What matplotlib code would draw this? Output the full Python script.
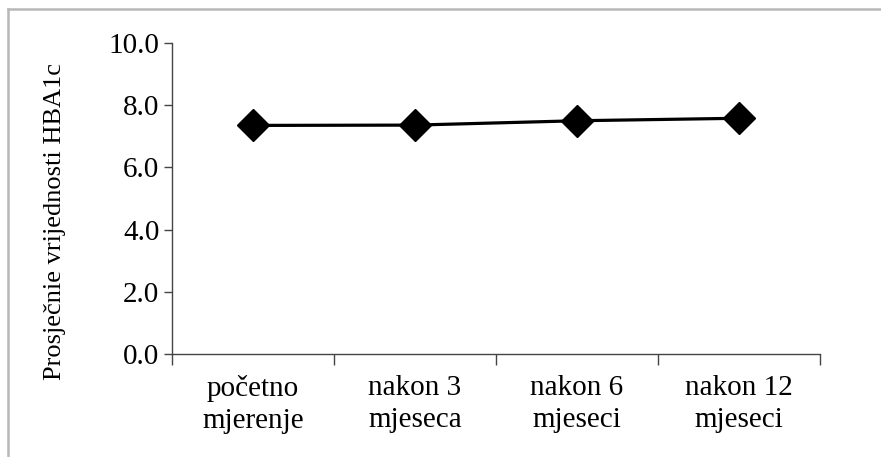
import matplotlib
matplotlib.use("Agg")
import matplotlib.pyplot as plt
from matplotlib.lines import Line2D

categories = ["početno\nmjerenje", "nakon 3\nmjeseca", "nakon 6\nmjeseci", "nakon 12\nmjeseci"]
values = [7.35, 7.36, 7.50, 7.58]
y_ticks = [0.0, 2.0, 4.0, 6.0, 8.0, 10.0]
y_label = "Prosječnie vrijednosti HBA1c"

plt.rcParams['font.family'] = ['Liberation Serif', 'DejaVu Serif']

W, H = 881, 457
fig = plt.figure(figsize=(W / 100, H / 100), dpi=100)
# outer frame: only top and left edges are visible in the reference
fig.lines.append(Line2D([8 / W, 8 / W], [0, (H - 9) / H], transform=fig.transFigure,
                        color='#b8b8b8', linewidth=1.8))
fig.lines.append(Line2D([8 / W, 1], [(H - 9) / H, (H - 9) / H], transform=fig.transFigure,
                        color='#b8b8b8', linewidth=1.8))

ax = fig.add_axes([172 / W, 103 / H, 648 / W, 311 / H])

x = [i + 0.5 for i in range(len(values))]
ax.plot(x, values, color='black', linewidth=2.3, marker='D', markersize=16,
        markerfacecolor='black', markeredgecolor='black')

ax.set_xlim(0, len(categories))
ax.set_ylim(0, 10)
ax.set_yticks(y_ticks)
ax.set_yticklabels([f"{v:.1f}" for v in y_ticks], fontsize=21)
ax.set_xticks(range(len(categories) + 1))
ax.set_xticklabels([])
ax.set_xticks(x, minor=True)
ax.set_xticklabels(categories, minor=True, fontsize=21, linespacing=1.3)
ax.tick_params(axis='x', which='minor', length=0, pad=15)
ax.tick_params(axis='x', which='major', length=8, width=1, color='#444444', direction='out')
ax.tick_params(axis='y', length=6, width=1, color='#444444', direction='out', pad=3)

for s in ['top', 'right']:
    ax.spines[s].set_visible(False)
for s in ['left', 'bottom']:
    ax.spines[s].set_color('#444444')
    ax.spines[s].set_linewidth(1)

fig.text(55 / W, 1 - 221 / H, y_label, fontsize=19, rotation=90, ha='center', va='center')

fig.savefig("out.png", dpi=100)
